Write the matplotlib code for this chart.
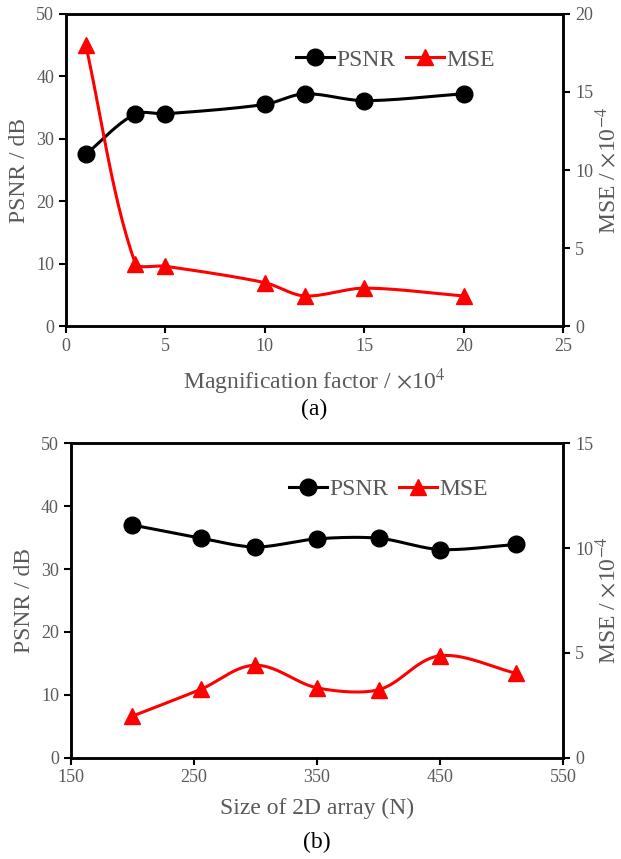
import numpy as np
import matplotlib
matplotlib.use('Agg')
import matplotlib.pyplot as plt

plt.rcParams['font.family'] = ['Liberation Serif', 'DejaVu Serif']
plt.rcParams['mathtext.fontset'] = 'stix'

# panel (a): magnification factor (x10^4)
mag = [1, 3.5, 5, 10, 12, 15, 20]
psnr_a = [27.5, 34.0, 34.0, 35.5, 37.2, 36.1, 37.2]
mse_a = [18.0, 4.0, 3.85, 2.8, 1.95, 2.45, 1.95]

# panel (b): size of 2D array
size_n = [200, 256, 300, 350, 400, 450, 512]
psnr_b = [37.0, 34.9, 33.5, 34.8, 34.9, 33.1, 33.9]
mse_b = [1.98, 3.27, 4.41, 3.33, 3.24, 4.86, 4.02]

GRAY = '#595959'


def smooth(x, y, xr, yr, k=0.3, n=30):
    # excel-like smoothed line: bezier through the points (axes units),
    # control arms scaled by each segment's own length
    x = (np.asarray(x, float) - xr[0]) / (xr[1] - xr[0])
    y = (np.asarray(y, float) - yr[0]) / (yr[1] - yr[0])
    pts = np.column_stack([x, y])
    d = np.zeros_like(pts)
    d[0] = pts[1] - pts[0]
    d[-1] = pts[-1] - pts[-2]
    d[1:-1] = pts[2:] - pts[:-2]
    d /= np.linalg.norm(d, axis=1)[:, None]
    t = np.linspace(0, 1, n)[:, None]
    out = []
    for i in range(len(pts) - 1):
        p0, p3 = pts[i], pts[i + 1]
        L = np.linalg.norm(p3 - p0)
        p1 = p0 + d[i] * k * L
        p2 = p3 - d[i + 1] * k * L
        out.append((1 - t) ** 3 * p0 + 3 * (1 - t) ** 2 * t * p1
                   + 3 * (1 - t) * t ** 2 * p2 + t ** 3 * p3)
    out = np.vstack(out)
    return (out[:, 0] * (xr[1] - xr[0]) + xr[0],
            out[:, 1] * (yr[1] - yr[0]) + yr[0])


def panel(ax, x, psnr, mse, xlim, xticks, mse_max, mse_ticks, xlabel,
          caption, cap_y, leg_x):
    ax2 = ax.twinx()
    sx, sy = smooth(x, psnr, xlim, (0, 50))
    ax.plot(sx, sy, color='black', lw=2.2)
    ax.plot(x, psnr, 'o', color='black', ms=12)
    mx, my = smooth(x, mse, xlim, (0, mse_max))
    ax2.plot(mx, my, color='red', lw=2.2)
    ax2.plot(x, mse, '^', color='red', ms=12)

    ax.set_xlim(*xlim)
    ax.set_xticks(xticks)
    ax.set_ylim(0, 50)
    ax.set_yticks(range(0, 51, 10))
    ax2.set_ylim(0, mse_max)
    ax2.set_yticks(mse_ticks)

    for a in (ax, ax2):
        for s in a.spines.values():
            s.set_linewidth(1.8)
        a.tick_params(direction='out', length=5, width=1.5, labelsize=13,
                      labelcolor=GRAY)
    ax.set_ylabel('PSNR / dB', fontsize=17, color=GRAY)
    ax2.set_ylabel(r'MSE / $\times$10$^{-4}$', fontsize=17, color=GRAY,
                   labelpad=1)
    ax.set_xlabel(xlabel, fontsize=17, color=GRAY, labelpad=8)
    ax.text(0.5, cap_y, caption, transform=ax.transAxes, ha='center',
            va='center', fontsize=17)

    h1 = plt.Line2D([], [], color='black', lw=2.2, marker='o', ms=12)
    h2 = plt.Line2D([], [], color='red', lw=2.2, marker='^', ms=12)
    leg = ax.legend([h1, h2], ['PSNR', 'MSE'], loc='upper left',
                    bbox_to_anchor=(leg_x, 0.955), ncol=2, frameon=False,
                    fontsize=17, handlelength=1.6, columnspacing=0.45,
                    handletextpad=0.1)
    for t in leg.get_texts():
        t.set_color(GRAY)


fig = plt.figure(figsize=(6.21, 8.59), dpi=100)
ax_a = fig.add_axes([0.106, 0.620, 0.801, 0.364])
ax_b = fig.add_axes([0.114, 0.118, 0.793, 0.366])

panel(ax_a, mag, psnr_a, mse_a, (0, 25), range(0, 26, 5), 20, range(0, 21, 5),
      r'Magnification factor / $\times$10$^4$', '(a)', -0.265, 0.42)
panel(ax_b, size_n, psnr_b, mse_b, (150, 550), range(150, 551, 100), 15,
      range(0, 16, 5), 'Size of 2D array (N)', '(b)', -0.27, 0.40)

fig.savefig('out.png', dpi=100)
